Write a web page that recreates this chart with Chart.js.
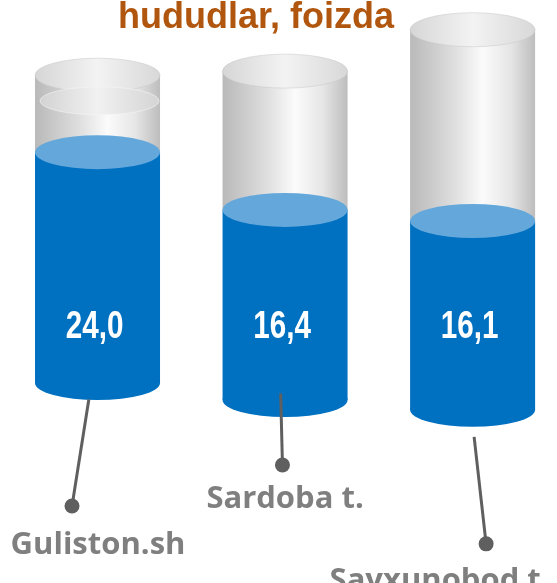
<!DOCTYPE html>
<html>
<head>
<meta charset="utf-8">
<script src="https://cdn.jsdelivr.net/npm/chart.js@4/dist/chart.umd.min.js"></script>
<style>
html,body{margin:0;padding:0;background:#fff;}
#wrap{width:557px;height:583px;}
</style>
</head>
<body>
<div id="wrap"><canvas id="c" width="557" height="583"></canvas></div>
<script>
// ---- data ----
const titleText = "hududlar, foizda";
const categories = ["Guliston.sh", "Sardoba t.", "Sayxunobod t."];
const values = [24.0, 16.4, 16.1];            // printed percentages
const valueLabels = ["24,0", "16,4", "16,1"];
// cylinder geometry in (hidden) axis units, 0..100
const baseLevel  = [34.3, 31.4, 29.7];        // bottom of each cylinder
const liquidTop  = [73.9, 64.0, 62.1];        // top of the blue fill
const glassTop   = [87.1, 87.8, 94.9];        // top of the grey glass
const ringLevel  = [82.7, null, null];        // inner ring (first cylinder only)

const glassData  = categories.map((c, i) => ({x: i, y: [baseLevel[i], glassTop[i]]}));
const liquidData = categories.map((c, i) => ({x: i, y: [baseLevel[i], liquidTop[i]]}));

const style = {
  ry: 17,
  blue: '#0070C0',
  blueTop: '#64A8DB',
  title: {color: '#B0560E', font: 'bold 36px "Liberation Sans", Arial, sans-serif', x: 256, y: 28},
  valueFont: 'bold 38px "Liberation Sans", Arial, sans-serif',
  valueScaleX: 0.78,
  valueY: 328, valueDx: -3,
  catFont: 'bold 31px "Open Sans", "Noto Sans", sans-serif',
  catColor: '#7F7F7F',
  lineColor: '#5F5F5F',
  // leader line: start offset (from bar centre/base), dot offset, label centre/baseline offsets
  leaders: [
    {sx: -8.7, sy: 16.5, dx: -25.5, dy: 123, lx: 0.5, ly: 171},
    {sx: -4.4, sy: -6.5, dx: -2.6,  dy: 65,  lx: 0,   ly: 108},
    {sx: 1.5,  sy: 27,   dx: 13.5,  dy: 134, lx: -33, ly: 180}
  ]
};

function ellipse(ctx, cx, cy, rx, ry){
  ctx.beginPath();
  ctx.ellipse(cx, cy, rx, ry, 0, 0, Math.PI*2);
  ctx.closePath();
}

const cylinderPlugin = {
  id: 'cylinders',
  afterDatasetsDraw(chart){
    const ctx = chart.ctx;
    const gMeta = chart.getDatasetMeta(0);
    const lMeta = chart.getDatasetMeta(1);
    const yS = chart.scales.y;
    const ry = style.ry;
    ctx.save();
    // title
    ctx.font = style.title.font;
    ctx.fillStyle = style.title.color;
    ctx.textAlign = 'center';
    ctx.textBaseline = 'alphabetic';
    ctx.fillText(titleText, style.title.x, style.title.y);

    gMeta.data.forEach((g, i) => {
      const l = lMeta.data[i];
      const x = g.x, w = g.width, rx = w/2, left = x - rx;
      const top = g.y, base = g.base, lt = l.y;
      // glass body
      const gg = ctx.createLinearGradient(left, 0, left + w, 0);
      gg.addColorStop(0, '#b9b9b9');
      gg.addColorStop(0.35, '#dedede');
      gg.addColorStop(0.58, '#fbfbfb');
      gg.addColorStop(0.8, '#e6e6e6');
      gg.addColorStop(1, '#bdbdbd');
      ctx.fillStyle = gg;
      ctx.fillRect(left, top, w, lt - top);
      // liquid body
      ctx.fillStyle = style.blue;
      ctx.fillRect(left, lt, w, base - lt);
      ellipse(ctx, x, base, rx, ry);
      ctx.fill();
      ellipse(ctx, x, lt, rx, ry);
      ctx.fillStyle = style.blueTop;
      ctx.fill();
      // glass top
      const tg = ctx.createLinearGradient(left, 0, left + w, 0);
      tg.addColorStop(0, '#d6d6d6');
      tg.addColorStop(0.5, '#f3f3f3');
      tg.addColorStop(1, '#d8d8d8');
      ellipse(ctx, x, top, rx, ry);
      ctx.fillStyle = tg;
      ctx.fill();
      ctx.strokeStyle = 'rgba(200,200,200,0.5)';
      ctx.lineWidth = 1;
      ctx.stroke();
      // inner ring
      if (ringLevel[i] != null){
        const ryy = yS.getPixelForValue(ringLevel[i]);
        const rg = ctx.createLinearGradient(left, 0, left + w, 0);
        rg.addColorStop(0, '#d0d0d0');
        rg.addColorStop(0.5, '#f1f1f1');
        rg.addColorStop(1, '#d4d4d4');
        ellipse(ctx, x + 2, ryy, rx - 3, ry - 3);
        ctx.fillStyle = rg;
        ctx.fill();
        ctx.strokeStyle = 'rgba(245,245,245,0.55)';
        ctx.lineWidth = 1;
        ctx.stroke();
      }
      // value label (condensed)
      ctx.save();
      ctx.translate(x + style.valueDx, style.valueY);
      ctx.scale(style.valueScaleX, 1);
      ctx.font = style.valueFont;
      ctx.fillStyle = '#ffffff';
      ctx.textAlign = 'center';
      ctx.textBaseline = 'middle';
      ctx.fillText(valueLabels[i], 0, 0);
      ctx.restore();

      // leader line + dot + category label
      const L = style.leaders[i];
      const sx = x + L.sx, sy = base + L.sy, dx = x + L.dx, dy = base + L.dy;
      ctx.strokeStyle = style.lineColor;
      ctx.lineWidth = 3;
      ctx.beginPath();
      ctx.moveTo(sx, sy);
      ctx.lineTo(dx, dy);
      ctx.stroke();
      ctx.beginPath();
      ctx.arc(dx, dy, 7.5, 0, Math.PI*2);
      ctx.fillStyle = style.lineColor;
      ctx.fill();
      ctx.font = style.catFont;
      ctx.fillStyle = style.catColor;
      ctx.textAlign = 'center';
      ctx.textBaseline = 'alphabetic';
      ctx.fillText(categories[i], x + L.lx, base + L.ly);
    });
    ctx.restore();
  }
};

new Chart(document.getElementById('c'), {
  type: 'bar',
  data: {
    datasets: [
      {label: 'glass', data: glassData, backgroundColor: 'rgba(0,0,0,0)', borderWidth: 0, barThickness: 125, grouped: false},
      {label: 'value', data: liquidData, backgroundColor: 'rgba(0,0,0,0)', borderWidth: 0, barThickness: 125, grouped: false}
    ]
  },
  options: {
    responsive: false,
    animation: false,
    layout: {padding: 0},
    scales: {
      x: {type: 'linear', min: -0.52, max: 2.45, display: false, offset: false},
      y: {min: 0, max: 100, display: false}
    },
    plugins: {legend: {display: false}, tooltip: {enabled: false}, title: {display: false}}
  },
  plugins: [cylinderPlugin]
});
</script>
</body>
</html>
